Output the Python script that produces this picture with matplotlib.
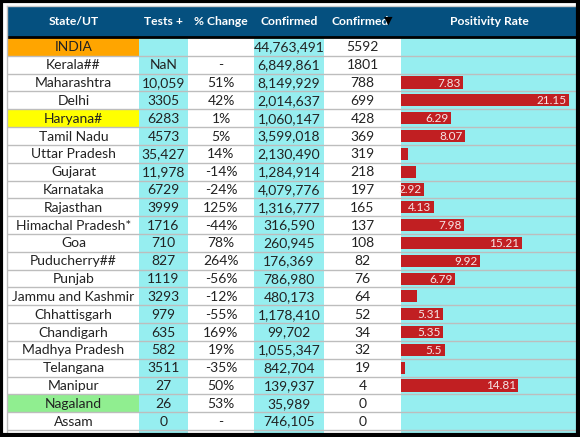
import matplotlib
matplotlib.use("Agg")
from matplotlib import pyplot as plt
from matplotlib.patches import Rectangle

plt.rcParams['font.family'] = ['Lato', 'DejaVu Sans']

headers = ["State/UT", "Tests +", "% Change", "Confirmed", "Confirmed", "Positivity Rate"]

states = ["INDIA", "Kerala##", "Maharashtra", "Delhi", "Haryana#", "Tamil Nadu",
          "Uttar Pradesh", "Gujarat", "Karnataka", "Rajasthan", "Himachal Pradesh*",
          "Goa", "Puducherry##", "Punjab", "Jammu and Kashmir", "Chhattisgarh",
          "Chandigarh", "Madhya Pradesh", "Telangana", "Manipur", "Nagaland", "Assam",
          "West Bengal##"]
tests = ["", "NaN", "10,059", "3305", "6283", "4573", "35,427", "11,978", "6729", "3999",
         "1716", "710", "827", "1119", "3293", "979", "635", "582", "3511", "27", "26", "0",
         "NaN"]
pct_change = ["", "-", "51%", "42%", "1%", "5%", "14%", "-14%", "-24%", "125%", "-44%",
              "78%", "264%", "-56%", "-12%", "-55%", "169%", "19%", "-35%", "50%", "53%",
              "-", "-"]
confirmed = ["44,763,491", "6,849,861", "8,149,929", "2,014,637", "1,060,147", "3,599,018",
             "2,130,490", "1,284,914", "4,079,776", "1,316,777", "316,590", "260,945",
             "176,369", "786,980", "480,173", "1,178,410", "99,702", "1,055,347", "842,704",
             "139,937", "35,989", "746,105", "2,119,547"]
new_confirmed = ["5592", "1801", "788", "699", "428", "369", "319", "218", "197", "165",
                 "137", "108", "82", "76", "64", "52", "34", "32", "19", "4", "0", "0", ""]
positivity = [None, None, 7.83, 21.15, 6.29, 8.07, 0.9, 1.9, 2.92, 4.13, 7.98, 15.21,
              9.92, 6.79, 2.0, 5.31, 5.35, 5.5, 0.5, 14.81, None, None, None]
highlight = {"INDIA": "#ffa500", "Haryana#": "#ffff00", "Nagaland": "#90ee90"}

W, H = 580, 437
col_edges = [8, 139, 188, 254, 324, 401, 577]
col_bg = ["white", "#96eef0", "white", "#96eef0", "white", "#96eef0"]
header_top, header_bot = 6, 37
row_top0 = 38
row_h = 17.82

fig = plt.figure(figsize=(W / 100, H / 100), dpi=100)
ax = fig.add_axes([0, 0, 1, 1])
ax.set_xlim(0, W)
ax.set_ylim(H, 0)
ax.axis("off")

# column backgrounds
for c in range(6):
    ax.add_patch(Rectangle((col_edges[c], header_bot), col_edges[c + 1] - col_edges[c],
                           H - header_bot, color=col_bg[c], lw=0, zorder=0))

# header
ax.add_patch(Rectangle((col_edges[0], header_top), col_edges[-1] - col_edges[0],
                       header_bot - header_top, color="#05507f", lw=0, zorder=1))
hy = (header_top + header_bot) / 2
for c, h in enumerate(headers):
    cx = (col_edges[c] + col_edges[c + 1]) / 2
    if c == 4:
        ax.text(332, hy, h, color="white", fontsize=8.7, fontweight="bold",
                ha="left", va="center", zorder=3)
    else:
        ax.text(cx, hy, h, color="white", fontsize=8.7, fontweight="bold",
                ha="center", va="center", zorder=3)
ax.text(388, hy - 0.5, "\u25bc", family="DejaVu Sans", color="black", fontsize=8,
        ha="center", va="center", zorder=4)
ax.plot([col_edges[0], col_edges[-1]], [header_bot, header_bot], color="black", lw=2, zorder=3)

# rows
for i, st in enumerate(states):
    top = row_top0 + i * row_h
    cy = top + row_h / 2
    if st in highlight:
        ax.add_patch(Rectangle((col_edges[0], top), col_edges[1] - col_edges[0], row_h,
                               color=highlight[st], lw=0, zorder=1))
    vals = [st, tests[i], pct_change[i], confirmed[i], new_confirmed[i]]
    for c, v in enumerate(vals):
        cx = (col_edges[c] + col_edges[c + 1]) / 2
        ax.text(cx, cy + 0.5, v, color="#222222", fontsize=10, ha="center", va="center", zorder=3)
    ax.plot([col_edges[0], col_edges[-1]], [top + row_h, top + row_h], color="#bdbdbd",
            lw=1, zorder=2)

# positivity bars in their own axes
bx = fig.add_axes([col_edges[5] / W, 0, (col_edges[6] - col_edges[5]) / W, 1])
bx.set_xlim(0, (col_edges[6] - col_edges[5]) / 7.93)
bx.set_ylim(H, 0)
bx.axis("off")
bx.patch.set_alpha(0)
ys = [row_top0 + i * row_h + row_h / 2 for i in range(len(states))]
for y, v in zip(ys, positivity):
    if v is None:
        continue
    bx.barh(y, v, height=row_h * 0.68, color="#c11f22", zorder=2)
    if v >= 2.5:
        bx.text(v - 0.3, y + 0.5, f"{v:g}", color="#f5e6e6", fontsize=8.5,
                ha="right", va="center", zorder=3)

# frame
ax.plot([7, 7], [header_top, H], color="#bdbdbd", lw=1, zorder=3)
ax.plot([7, 577], [header_top - 0.5, header_top - 0.5], color="#cccccc", lw=1, zorder=3)
ax.add_patch(Rectangle((0.5, 0.5), W - 2.5, H - 2.5, fill=False, ec="black", lw=3, zorder=5))

fig.savefig("out.png", dpi=100)
